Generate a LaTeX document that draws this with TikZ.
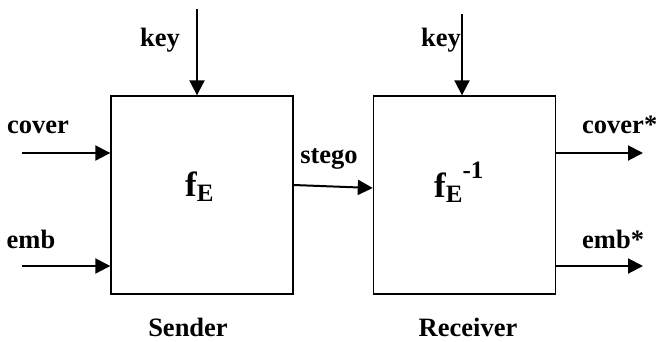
\documentclass[tikz,border=0pt]{standalone}
\usepackage{fontspec}
\setmainfont{Liberation Serif}
\usetikzlibrary{arrows.meta}
\begin{document}
\begin{tikzpicture}[x=1pt,y=-1pt,
  blk/.style={draw,line width=1.4pt,minimum width=182pt,minimum height=198pt,inner sep=0pt},
  arr/.style={line width=2pt,-{Triangle[length=15pt,width=15pt]}},
  lbl/.style={font=\fontsize{26.5}{30}\selectfont\bfseries,inner sep=0pt,anchor=base},
  fn/.style={font=\fontsize{35}{38}\selectfont\bfseries,inner sep=0pt,anchor=base west}]
\useasboundingbox (0,0) rectangle (658,341);
\node[blk] (sender) at (202,195) {};
\node[blk] (receiver) at (464.5,195) {};
% function labels
\node[fn] (fE) at (185,196) {f\raisebox{-5pt}{\fontsize{25}{25}\selectfont E}};
\node[fn] (fEi) at (434,197) {f\raisebox{-5pt}{\fontsize{25}{25}\selectfont E}\raisebox{19pt}{\fontsize{25}{25}\selectfont -1}};
% coordinates
\coordinate (k1) at (197,9);
\coordinate (k2) at (462,14);
\coordinate (c1) at (22,153);
\coordinate (e1) at (22,266);
\coordinate (c2) at (643,153);
\coordinate (e2) at (643,266);
\coordinate (s1) at (sender.east |- 0,185);
\coordinate (s2) at (receiver.west |- 0,188);
% arrows
\draw[arr] (k1) -- (k1 |- sender.north);
\draw[arr] (k2) -- (k2 |- receiver.north);
\draw[arr] (c1) -- (c1 -| sender.west);
\draw[arr] (e1) -- (e1 -| sender.west);
\draw[arr] (s1) -- (s2);
\draw[arr] (c2 -| receiver.east) -- (c2);
\draw[arr] (e2 -| receiver.east) -- (e2);
% labels
\node[lbl] (lk1) at (160,46) {key};
\node[lbl] (lk2) at (441,46) {key};
\node[lbl] (lc1) at (38,133) {cover};
\node[lbl] (le1) at (31,248) {emb};
\node[lbl] (ls) at (329,163) {stego};
\node[lbl,anchor=base west] (lc2) at (582,133) {cover*};
\node[lbl,anchor=base west] (le2) at (582,248) {emb*};
\node[lbl] (lsend) at (188,336) {Sender};
\node[lbl] (lrecv) at (468,336) {Receiver};
\end{tikzpicture}
\end{document}
